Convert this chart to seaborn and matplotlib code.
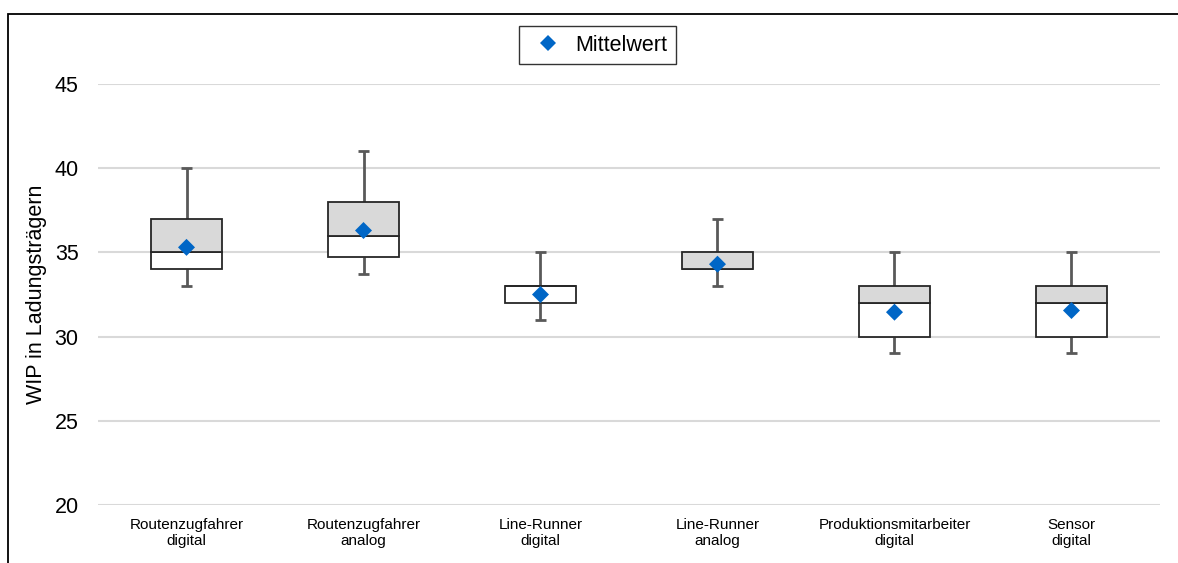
import numpy as np
import pandas as pd
import matplotlib
matplotlib.use("Agg")
import matplotlib.pyplot as plt
import seaborn as sns
from matplotlib.patches import Rectangle

# Kennwerte je Rolle
gruppen = ["Routenzugfahrer\ndigital", "Routenzugfahrer\nanalog", "Line-Runner\ndigital",
           "Line-Runner\nanalog", "Produktionsmitarbeiter\ndigital", "Sensor\ndigital"]
minimum = [33, 33.7, 31, 33, 29, 29]
q1 = [34, 34.7, 32, 34, 30, 30]
median = [35, 36, 33, 34, 32, 32]
q3 = [37, 38, 33, 35, 33, 33]
maximum = [40, 41, 35, 37, 35, 35]
mittelwert = [35.3, 36.3, 32.5, 34.3, 31.45, 31.55]

df = pd.DataFrame({
    "gruppe": gruppen,
    "min": minimum,
    "q1": q1,
    "median": median,
    "q3": q3,
    "max": maximum,
    "mittel": mittelwert,
})
df["unten"] = df["median"] - df["q1"]
df["oben"] = df["q3"] - df["median"]

sns.set_style("white")
plt.rcParams["font.family"] = ["Liberation Sans", "DejaVu Sans"]
plt.rcParams["text.color"] = "black"
plt.rcParams["xtick.color"] = "black"
plt.rcParams["ytick.color"] = "black"
plt.rcParams["axes.labelcolor"] = "black"

fig = plt.figure(figsize=(11.78, 5.63), dpi=100)
ax = fig.add_axes([0.0832, 0.103, 0.9015, 0.7478])

whisker_col = "#595959"
box_col = "#262626"
x = np.arange(len(gruppen))

# Whisker
ax.vlines(x, df["q3"], df["max"], color=whisker_col, lw=2, zorder=2)
ax.vlines(x, df["min"], df["q1"], color=whisker_col, lw=2, zorder=2)
cap = 0.032
ax.hlines(df["max"], x - cap, x + cap, color=whisker_col, lw=2, zorder=2)
ax.hlines(df["min"], x - cap, x + cap, color=whisker_col, lw=2, zorder=2)

# Boxen: unterer Teil weiss, oberer Teil grau
sns.barplot(data=df, x="gruppe", y="unten", bottom=df["q1"], color="white",
            edgecolor=box_col, linewidth=1.3, width=0.4, saturation=1, ax=ax, zorder=3)
sns.barplot(data=df, x="gruppe", y="oben", bottom=df["median"], color="#d9d9d9",
            edgecolor=box_col, linewidth=1.3, width=0.4, saturation=1, ax=ax, zorder=3)

# Mittelwert
sns.scatterplot(data=df, x="gruppe", y="mittel", marker="D", s=75, color="#0066c6",
                edgecolor="none", ax=ax, zorder=5, label="Mittelwert", legend=False)

ax.set_ylim(20, 45)
ax.set_xlim(-0.5, len(gruppen) - 0.5)
ax.set_yticks(range(20, 46, 5))
ax.yaxis.grid(True, color="#d9d9d9", lw=1.5)
ax.set_axisbelow(True)
for s in ax.spines.values():
    s.set_visible(False)
ax.tick_params(axis="y", labelsize=15.5, length=0, pad=14)
ax.tick_params(axis="x", labelsize=11, length=0, pad=9)
ax.set_xlabel("")
ax.set_ylabel("WIP in Ladungsträgern", fontsize=15.5, labelpad=5)

handle = plt.Line2D([], [], marker="D", ls="none", color="#0066c6", markersize=8.5,
                    markeredgewidth=0)
leg = fig.legend([handle], ["Mittelwert"], loc="center", bbox_to_anchor=(0.507, 0.92),
                 fontsize=15.5, frameon=True, fancybox=False, edgecolor="black",
                 handletextpad=0.3, borderpad=0.4, handlelength=1.9, borderaxespad=0)
leg.get_frame().set_linewidth(1)

# Rahmen um die Grafik (oben und links sichtbar)
fig.add_artist(Rectangle((8 / 1178, -0.1), 1.2, 1 - 14 / 563 + 0.1, transform=fig.transFigure,
                         fill=False, edgecolor="black", lw=1.3, clip_on=False))

fig.savefig("out.png", dpi=100)
